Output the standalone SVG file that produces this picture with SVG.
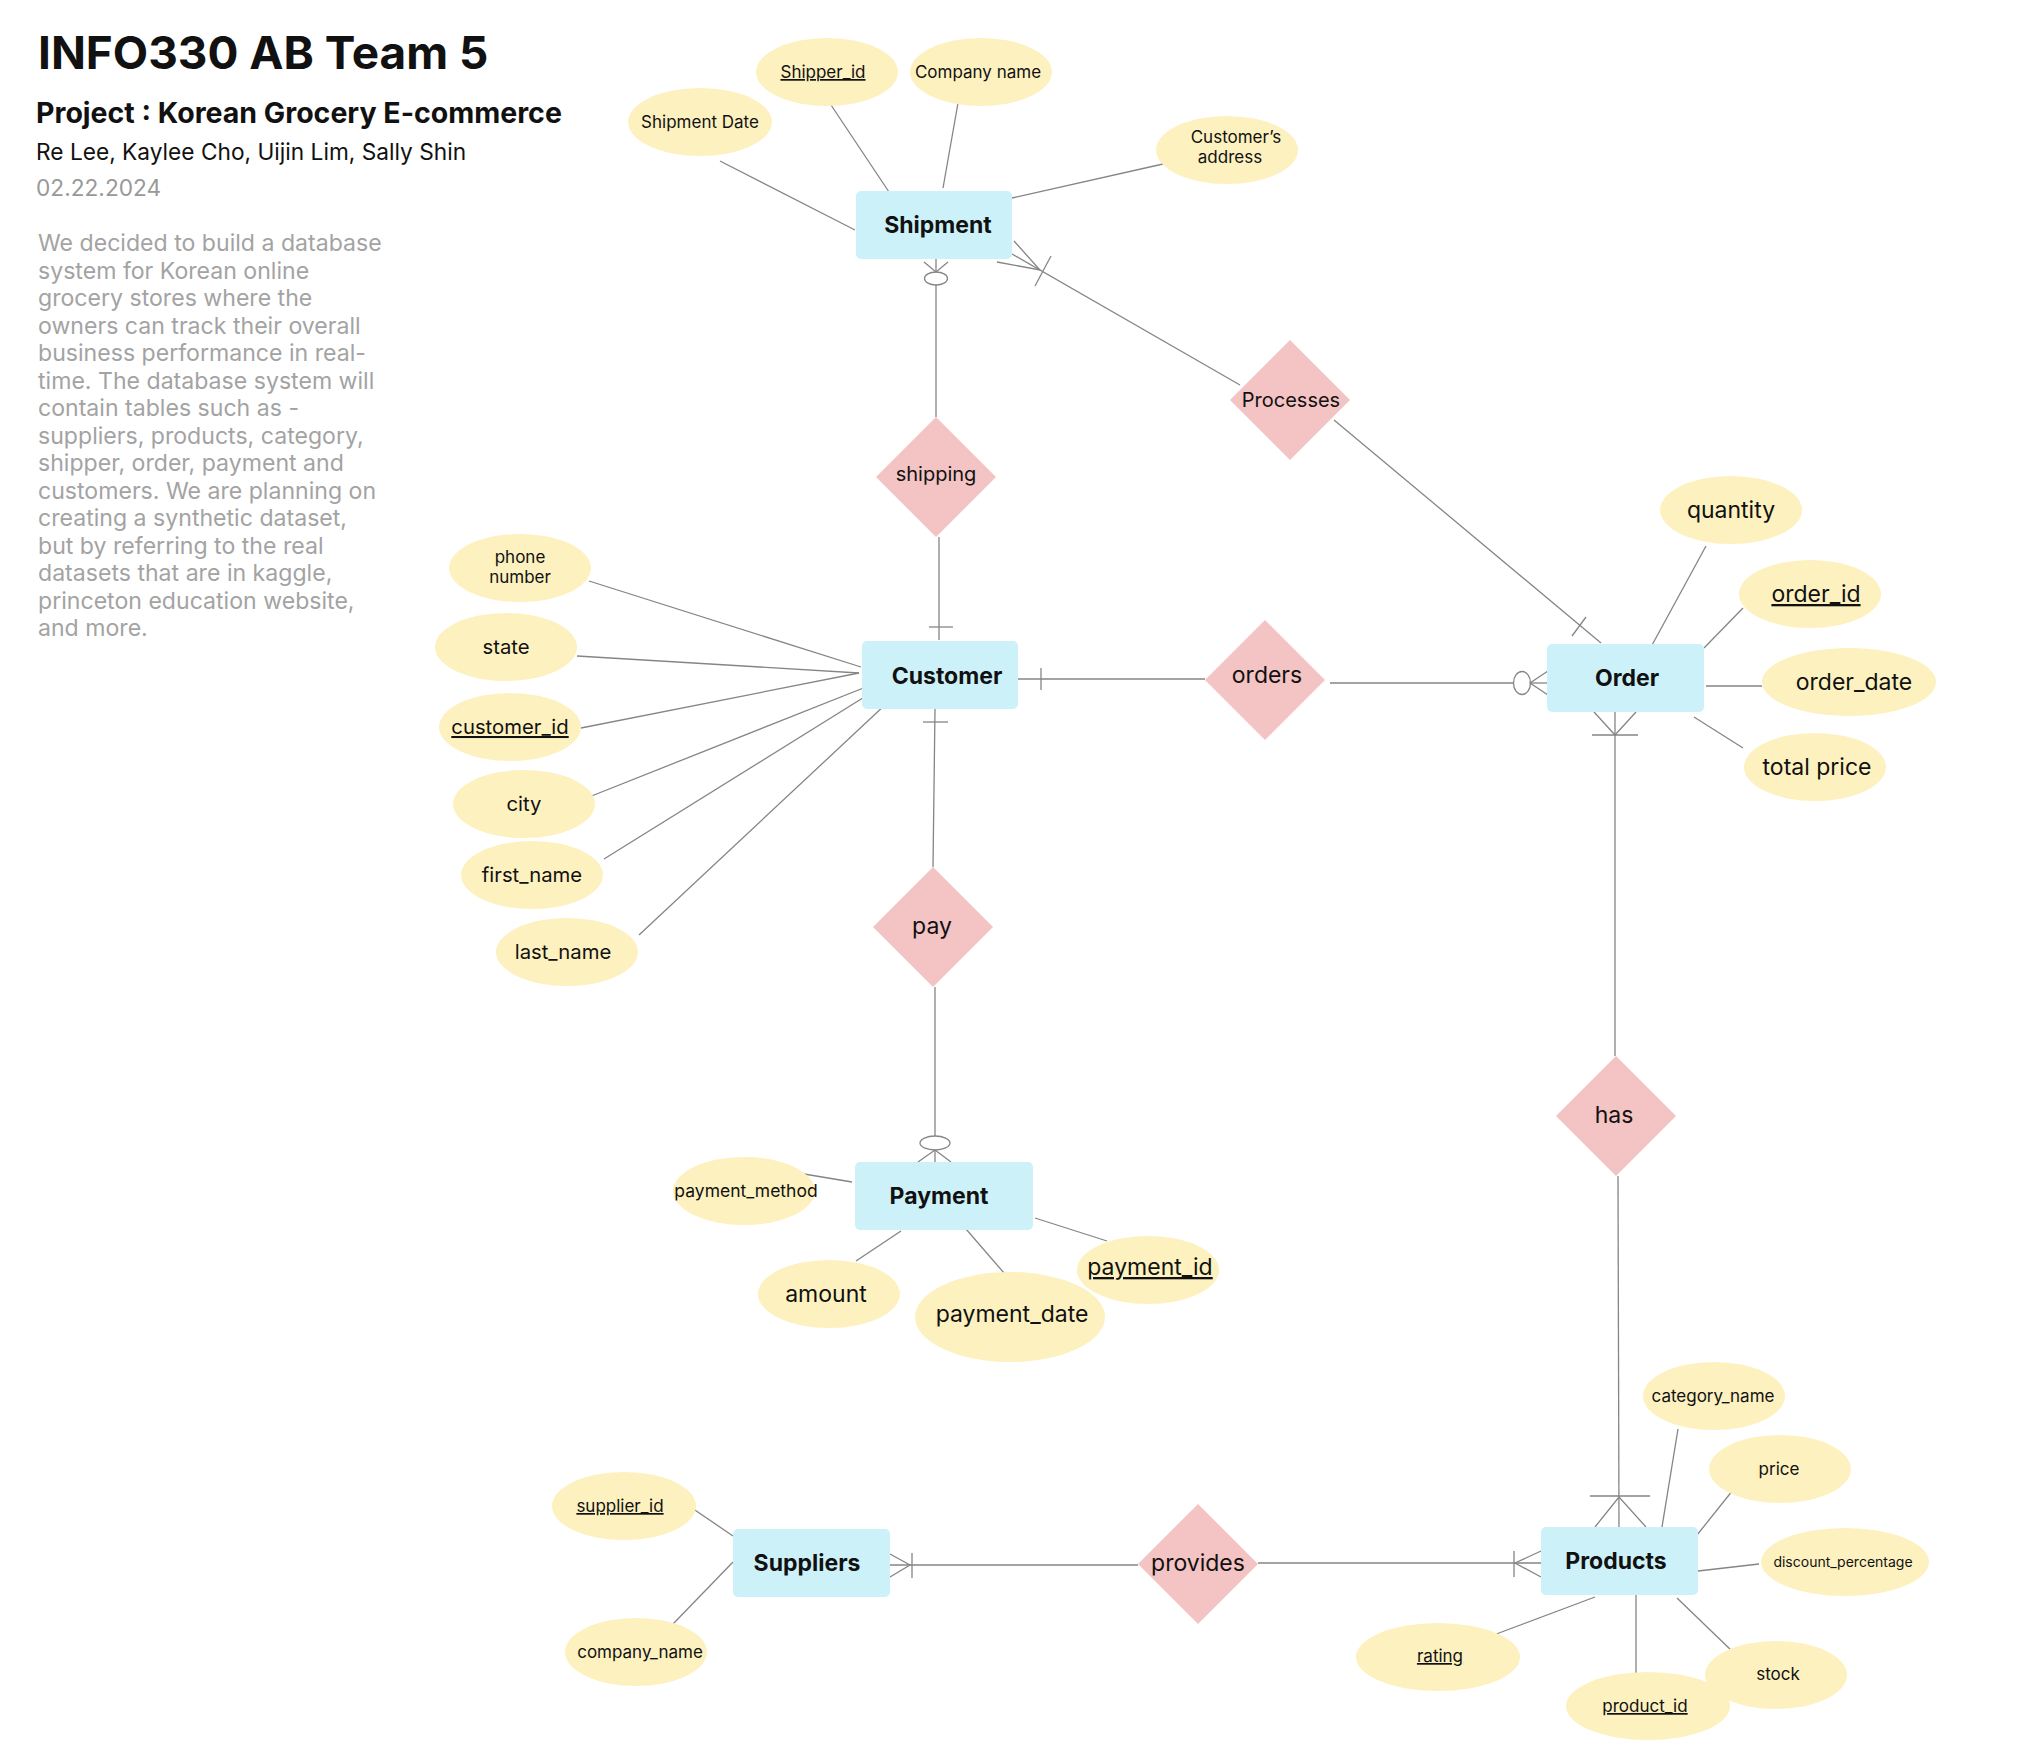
<svg xmlns="http://www.w3.org/2000/svg" width="2032" height="1754" viewBox="0 0 2032 1754">
<style>
text{font-family:Inter,"Noto Sans","Liberation Sans",sans-serif;fill:#111}
.ent{fill:#cdf1f9}
.attr{fill:#fdf1bf}
.rel{fill:#f4c3c3}
.ln{stroke:#858585;stroke-width:1.3;fill:none}
.el{font-size:23px;font-weight:700;text-anchor:middle}
.rl{font-size:23px;text-anchor:middle}
.a{font-size:20.3px;text-anchor:middle}
.s{font-size:17px;text-anchor:middle}
.u{text-decoration:underline}
.p{font-size:23.1px;fill:#a3a3a3}
</style>
<rect width="2032" height="1754" fill="#ffffff"/>
<g id="header">
<text x="38" y="69" style="font-size:45.9px;font-weight:700">INFO330 AB Team 5</text>
<text x="36" y="123" style="font-size:28.5px;font-weight:700">Project : Korean Grocery E-commerce</text>
<text x="36" y="160" style="font-size:22.7px">Re Lee, Kaylee Cho, Uijin Lim, Sally Shin</text>
<text x="36" y="196" style="font-size:22.7px;fill:#999999">02.22.2024</text>
<text class="p" x="38" y="251">We decided to build a database</text>
<text class="p" x="38" y="278.5">system for Korean online</text>
<text class="p" x="38" y="306">grocery stores where the</text>
<text class="p" x="38" y="333.5">owners can track their overall</text>
<text class="p" x="38" y="361">business performance in real-</text>
<text class="p" x="38" y="388.5">time. The database system will</text>
<text class="p" x="38" y="416">contain tables such as -</text>
<text class="p" x="38" y="443.5">suppliers, products, category,</text>
<text class="p" x="38" y="471">shipper, order, payment and</text>
<text class="p" x="38" y="498.5">customers. We are planning on</text>
<text class="p" x="38" y="526">creating a synthetic dataset,</text>
<text class="p" x="38" y="553.5">but by referring to the real</text>
<text class="p" x="38" y="581">datasets that are in kaggle,</text>
<text class="p" x="38" y="608.5">princeton education website,</text>
<text class="p" x="38" y="636">and more.</text>
</g>
<g id="connectors" class="ln">
<line x1="720" y1="161" x2="855" y2="230"/>
<line x1="831" y1="105" x2="889" y2="192"/>
<line x1="958" y1="103" x2="943" y2="188"/>
<line x1="1163" y1="164" x2="1012" y2="198"/>
<line x1="589" y1="581" x2="861" y2="667"/>
<line x1="577" y1="656" x2="859" y2="673"/>
<line x1="581" y1="728" x2="859" y2="673"/>
<line x1="589" y1="797" x2="866" y2="687"/>
<line x1="604" y1="859" x2="866" y2="696"/>
<line x1="639" y1="935" x2="886" y2="704"/>
<line x1="1706" y1="546" x2="1651" y2="647"/>
<line x1="1743" y1="608" x2="1704" y2="648"/>
<line x1="1762" y1="686" x2="1706" y2="686"/>
<line x1="1743" y1="748" x2="1694" y2="717"/>
<line x1="804" y1="1174" x2="852" y2="1182"/>
<line x1="856" y1="1261" x2="901" y2="1231"/>
<line x1="1004" y1="1273" x2="966" y2="1229"/>
<line x1="1107" y1="1241" x2="1035" y2="1218"/>
<line x1="689" y1="1506" x2="733" y2="1536"/>
<line x1="673" y1="1624" x2="733" y2="1562"/>
<line x1="1678" y1="1429" x2="1662" y2="1527"/>
<line x1="1733" y1="1490" x2="1697" y2="1535"/>
<line x1="1759" y1="1564" x2="1698" y2="1571"/>
<line x1="1733" y1="1652" x2="1677" y2="1598"/>
<line x1="1636" y1="1673" x2="1636" y2="1595"/>
<line x1="1491" y1="1636" x2="1595" y2="1597"/>
<line x1="936" y1="285" x2="936" y2="417"/>
<ellipse cx="936" cy="278.5" rx="11.5" ry="6.5"/>
<polyline points="924,262 936,272 948,262"/>
<line x1="936" y1="259" x2="936" y2="272"/>
<line x1="939" y1="537" x2="939" y2="640"/>
<line x1="929" y1="627" x2="953" y2="627"/>
<line x1="935" y1="709" x2="933" y2="867"/>
<line x1="923" y1="722" x2="948" y2="722"/>
<line x1="935" y1="987" x2="935" y2="1136"/>
<ellipse cx="935" cy="1143" rx="15" ry="7"/>
<polyline points="918,1162 935,1150 951,1162"/>
<line x1="935" y1="1150" x2="935" y2="1162"/>
<line x1="1018" y1="679" x2="1205" y2="679"/>
<line x1="1041" y1="668" x2="1041" y2="690"/>
<line x1="1330" y1="683" x2="1513" y2="683"/>
<ellipse cx="1522" cy="683" rx="8.5" ry="11.5"/>
<polyline points="1548,671 1530,683 1548,695"/>
<line x1="1530" y1="683" x2="1548" y2="683"/>
<line x1="1012" y1="254" x2="1240" y2="385"/>
<polyline points="1014,241 1040,270 997,262"/>
<line x1="1035" y1="286" x2="1051" y2="256"/>
<line x1="1334" y1="420" x2="1601" y2="643"/>
<line x1="1572" y1="636" x2="1586" y2="617"/>
<line x1="1615" y1="712" x2="1615" y2="1056"/>
<polyline points="1594,712 1615,735 1636,712"/>
<line x1="1592" y1="735" x2="1638" y2="735"/>
<line x1="1618" y1="1176" x2="1619" y2="1527"/>
<polyline points="1595,1527 1619,1497 1646,1527"/>
<line x1="1590" y1="1496" x2="1650" y2="1496"/>
<line x1="1258" y1="1563" x2="1541" y2="1563"/>
<polyline points="1541,1551 1515,1563 1541,1577"/>
<line x1="1514" y1="1551" x2="1514" y2="1577"/>
<line x1="890" y1="1565" x2="1138" y2="1565"/>
<polyline points="890,1554 910,1565 890,1577"/>
<line x1="912" y1="1553" x2="912" y2="1578"/>
</g>
<g id="shipment">
<rect class="ent" x="856" y="191" width="156" height="68" rx="5"/>
<text class="el" x="938" y="233">Shipment</text>
</g>
<g id="customer">
<rect class="ent" x="862" y="641" width="156" height="68" rx="5"/>
<text class="el" x="947" y="684">Customer</text>
</g>
<g id="order">
<rect class="ent" x="1547" y="644" width="157" height="68" rx="5"/>
<text class="el" x="1627" y="686">Order</text>
</g>
<g id="payment">
<rect class="ent" x="855" y="1162" width="178" height="68" rx="5"/>
<text class="el" x="939" y="1204">Payment</text>
</g>
<g id="suppliers">
<rect class="ent" x="733" y="1529" width="157" height="68" rx="5"/>
<text class="el" x="807" y="1571">Suppliers</text>
</g>
<g id="products">
<rect class="ent" x="1541" y="1527" width="157" height="68" rx="5"/>
<text class="el" x="1616" y="1569">Products</text>
</g>
<g id="rel-shipping">
<polygon class="rel" points="936,417 996,477 936,537 876,477"/>
<text class="rl" x="936" y="481" style="font-size:20px">shipping</text>
</g>
<g id="rel-processes">
<polygon class="rel" points="1290,340 1350,400 1290,460 1230,400"/>
<text class="rl" x="1291" y="407" style="font-size:20px">Processes</text>
</g>
<g id="rel-orders">
<polygon class="rel" points="1265,620 1325,680 1265,740 1205,680"/>
<text class="rl" x="1267" y="683">orders</text>
</g>
<g id="rel-pay">
<polygon class="rel" points="933,867 993,927 933,987 873,927"/>
<text class="rl" x="932" y="934">pay</text>
</g>
<g id="rel-has">
<polygon class="rel" points="1616,1056 1676,1116 1616,1176 1556,1116"/>
<text class="rl" x="1614" y="1123">has</text>
</g>
<g id="rel-provides">
<polygon class="rel" points="1198,1504 1258,1564 1198,1624 1138,1564"/>
<text class="rl" x="1198" y="1571">provides</text>
</g>
<g id="attr-shipment-date"><ellipse class="attr" cx="700" cy="122" rx="72" ry="34"/><text class="s" x="700" y="128">Shipment Date</text></g>
<g id="attr-shipper-id"><ellipse class="attr" cx="827" cy="72" rx="71" ry="34"/><text class="s u" x="823" y="78">Shipper_id</text></g>
<g id="attr-company-name"><ellipse class="attr" cx="981" cy="72" rx="71" ry="34"/><text class="s" x="978" y="78">Company name</text></g>
<g id="attr-customers-address"><ellipse class="attr" cx="1227" cy="150" rx="71" ry="34"/><text class="s" x="1236" y="143">Customer’s</text><text class="s" x="1230" y="163">address</text></g>
<g id="attr-phone"><ellipse class="attr" cx="520" cy="568" rx="71" ry="34"/><text class="s" x="520" y="563">phone</text><text class="s" x="520" y="583">number</text></g>
<g id="attr-state"><ellipse class="attr" cx="506" cy="647" rx="71" ry="34"/><text class="a" x="506" y="654">state</text></g>
<g id="attr-customer-id"><ellipse class="attr" cx="510" cy="727" rx="71" ry="34"/><text class="a u" x="510" y="734">customer_id</text></g>
<g id="attr-city"><ellipse class="attr" cx="524" cy="804" rx="71" ry="34"/><text class="a" x="524" y="811">city</text></g>
<g id="attr-first-name"><ellipse class="attr" cx="532" cy="875" rx="71" ry="34"/><text class="a" x="532" y="882">first_name</text></g>
<g id="attr-last-name"><ellipse class="attr" cx="567" cy="952" rx="71" ry="34"/><text class="a" x="563" y="959">last_name</text></g>
<g id="attr-quantity"><ellipse class="attr" cx="1731" cy="510" rx="71" ry="34"/><text class="rl" x="1731" y="518">quantity</text></g>
<g id="attr-order-id"><ellipse class="attr" cx="1810" cy="594" rx="71" ry="34"/><text class="rl u" x="1816" y="602">order_id</text></g>
<g id="attr-order-date"><ellipse class="attr" cx="1849" cy="682" rx="87" ry="34"/><text class="rl" x="1854" y="690">order_date</text></g>
<g id="attr-total-price"><ellipse class="attr" cx="1815" cy="767" rx="71" ry="34"/><text class="rl" x="1817" y="775">total price</text></g>
<g id="attr-payment-method"><ellipse class="attr" cx="744" cy="1191" rx="71" ry="34"/><text class="s" x="746" y="1197" style="font-size:17.5px">payment_method</text></g>
<g id="attr-amount"><ellipse class="attr" cx="829" cy="1294" rx="71" ry="34"/><text class="rl" x="826" y="1302">amount</text></g>
<g id="attr-payment-date"><ellipse class="attr" cx="1010" cy="1317" rx="95" ry="45"/><text class="rl" x="1012" y="1322">payment_date</text></g>
<g id="attr-payment-id"><ellipse class="attr" cx="1148" cy="1270" rx="71" ry="34"/><text class="rl u" x="1150" y="1275">payment_id</text></g>
<g id="attr-supplier-id"><ellipse class="attr" cx="624" cy="1506" rx="72" ry="34"/><text class="s u" x="620" y="1512">supplier_id</text></g>
<g id="attr-company-name-2"><ellipse class="attr" cx="636" cy="1652" rx="71" ry="34"/><text class="s" x="640" y="1658">company_name</text></g>
<g id="attr-category-name"><ellipse class="attr" cx="1714" cy="1396" rx="71" ry="34"/><text class="s" x="1713" y="1402">category_name</text></g>
<g id="attr-price"><ellipse class="attr" cx="1780" cy="1469" rx="71" ry="34"/><text class="s" x="1779" y="1475">price</text></g>
<g id="attr-discount"><ellipse class="attr" cx="1845" cy="1562" rx="84" ry="34"/><text class="s" x="1843" y="1567" style="font-size:14px">discount_percentage</text></g>
<g id="attr-product-id"><ellipse class="attr" cx="1648" cy="1706" rx="82" ry="34"/><text class="s u" x="1645" y="1712">product_id</text></g>
<g id="attr-stock"><ellipse class="attr" cx="1776" cy="1675" rx="71" ry="34"/><text class="s" x="1778" y="1680">stock</text></g>
<g id="attr-rating"><ellipse class="attr" cx="1438" cy="1657" rx="82" ry="34"/><text class="s u" x="1440" y="1662">rating</text></g>
</svg>
